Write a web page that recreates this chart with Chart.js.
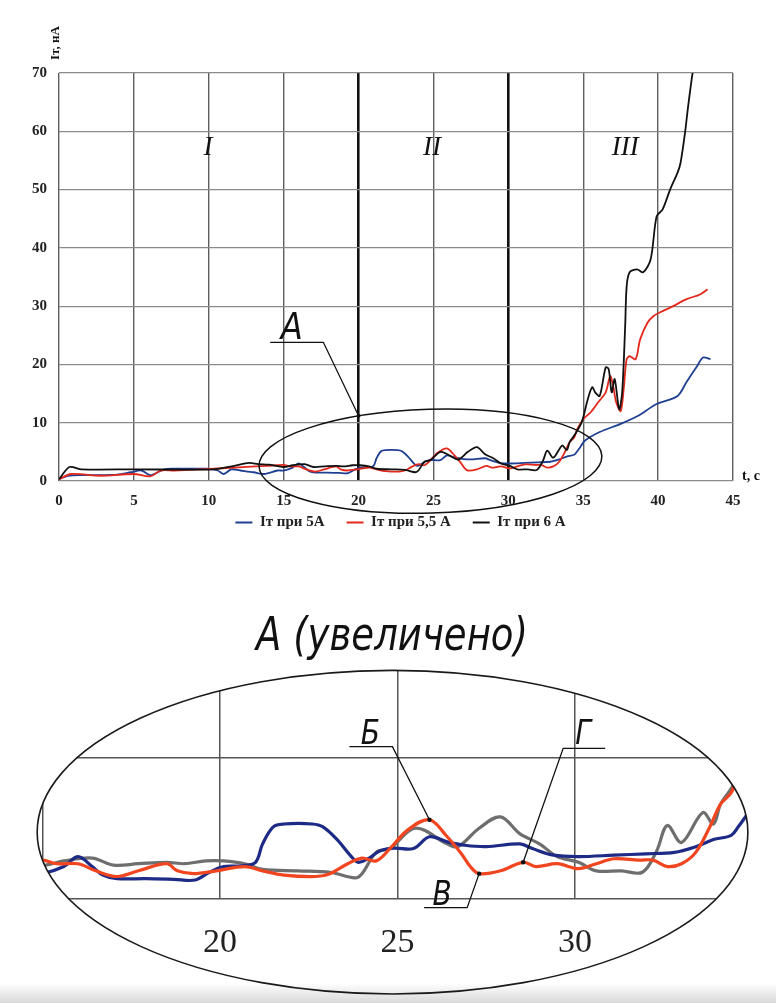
<!DOCTYPE html>
<html>
<head>
<meta charset="utf-8">
<script src="https://cdn.jsdelivr.net/npm/chart.js@4.4.1/dist/chart.umd.min.js"></script>
<style>
  html, body { margin: 0; padding: 0; background: #fff; }
  body { width: 776px; height: 1003px; position: relative; overflow: hidden; }
  #shade { position: absolute; left: 0; bottom: 0; width: 776px; height: 20px;
           background: linear-gradient(rgba(255,255,255,0), #d9d9d9); }
  #main { position: absolute; left: 0; top: 0; }
  #zoom { position: absolute; left: 0; top: 540px; }
</style>
</head>
<body>
<div id="shade"></div>
<canvas id="zoom" width="776" height="463"></canvas>
<canvas id="main" width="776" height="572"></canvas>
<script>
// Current through the sample, nA, versus time, s — three heating currents
const seriesNames = ['Iт при 5A', 'Iт при 5,5 A', 'Iт при 6 A'];

// 5 A
const t5 = [0, 0.6, 1.7, 3.9, 4.8, 5.5, 6.1, 7.0, 7.9, 9.9, 10.6, 11.0, 11.5, 12.1, 13.0,
  13.7, 14.6, 15.0, 15.6, 16.0, 16.4, 16.7, 17.1, 17.9, 18.7, 19.3, 19.7, 20.1, 20.6, 21.0,
  21.2, 21.5, 21.8, 22.6, 22.9, 23.3, 23.7, 23.9, 24.2, 24.5, 24.9, 25.45, 25.9, 26.4, 26.9,
  27.5, 28.45, 28.8, 29.4, 30.1, 31.1, 32.0, 32.8, 33.4, 33.9, 34.4, 34.6, 34.8, 35.1, 36.1,
  37.5, 38.6, 39.9, 41.3, 41.9, 42.6, 43.0, 43.5];
const i5 = [0.3, 0.9, 1.0, 1.1, 1.5, 1.8, 1.0, 2.0, 2.1, 2.1, 1.8, 1.2, 2.0, 1.8, 1.5,
  1.2, 1.8, 1.8, 2.3, 3.0, 2.3, 1.7, 1.45, 1.45, 1.4, 1.35, 1.9, 2.3, 2.35, 2.6,
  3.9, 5.1, 5.3, 5.3, 5.1, 4.2, 3.0, 2.6, 2.9, 3.4, 3.6, 3.57, 4.4, 4.04, 3.8,
  3.7, 3.9, 3.57, 3.1, 3.0, 3.1, 3.2, 3.3, 3.7, 4.2, 4.5, 5.1, 5.8, 6.9, 8.4,
  9.8, 11.1, 13.2, 14.6, 17.0, 19.7, 21.2, 20.9];

// 5,5 A
const t55 = [0, 0.8, 2.8, 5.0, 6.1, 6.8, 7.7, 9.5, 11.7, 13.9, 15.0, 15.4, 16.0, 16.5, 17.1,
  17.7, 18.5, 18.8, 19.25, 19.9, 20.7, 21.2, 21.8, 22.7, 23.1, 23.6, 24.0, 24.4, 24.8, 25.3,
  25.9, 26.4, 26.8, 27.05, 27.3, 27.9, 28.54, 28.9, 29.5, 30.1, 30.6, 31.1, 31.8, 32.2, 32.6,
  33.0, 33.4, 33.8, 34.1, 34.4, 34.6, 35.0, 35.5, 36.0, 36.5, 36.8, 37.0, 37.2, 37.5, 37.7,
  37.9, 38.1, 38.5, 38.8, 39.3, 39.7, 40.1, 41.0, 41.9, 42.8, 43.3];
const i55 = [0.3, 1.2, 0.9, 1.2, 0.8, 1.8, 1.8, 2.0, 2.3, 2.6, 2.75, 2.5, 2.5, 2.0, 1.6,
  2.0, 2.5, 2.0, 1.8, 2.0, 2.3, 2.0, 1.7, 1.6, 1.8, 2.5, 2.9, 2.7, 3.6, 4.9,
  5.6, 4.4, 3.2, 2.3, 1.8, 2.0, 2.6, 2.3, 2.5, 2.15, 2.5, 2.85, 2.75, 2.75, 2.3,
  2.5, 3.3, 5.1, 6.7, 7.5, 8.9, 10.6, 11.8, 13.5, 15.2, 18.0, 16.3, 13.5, 12.0, 15.7,
  20.9, 21.4, 20.9, 24.3, 27.2, 28.3, 28.9, 30.0, 31.2, 32.0, 32.9];

// 6 A
const t6 = [0, 0.7, 1.5, 5.0, 10.3, 11.7, 12.7, 13.3, 14.0, 15.0, 15.6, 16.4, 17.0, 17.7, 18.5,
  19.0, 19.6, 20.1, 20.7, 21.2, 22.2, 23.1, 23.8, 24.0, 24.4, 24.8, 25.5, 26.4, 26.7, 27.3,
  27.9, 28.45, 29.0, 29.5, 30.1, 30.6, 31.3, 31.9, 32.3, 32.6, 33.0, 33.6, 33.9, 34.1, 34.4,
  34.9, 35.3, 35.6, 35.8, 36.1, 36.5, 36.7, 36.9, 37.1, 37.4, 37.6, 37.8, 37.9, 38.1, 38.6,
  39.0, 39.5, 39.9, 40.3, 40.8, 41.3, 41.5, 41.8, 42.0, 42.3, 42.5];
const i6 = [0.3, 2.4, 2.0, 2.0, 2.0, 2.6, 3.1, 2.9, 2.8, 2.4, 2.7, 2.9, 2.4, 2.5, 2.6,
  2.5, 2.7, 2.7, 2.5, 2.1, 2.0, 1.9, 1.5, 1.8, 3.3, 3.6, 5.0, 3.9, 3.7, 5.0,
  5.8, 4.6, 3.9, 3.0, 2.6, 2.0, 2.0, 1.9, 3.4, 5.2, 4.0, 6.1, 5.3, 6.7, 7.8,
  10.1, 14.0, 16.1, 15.2, 14.6, 19.5, 19.2, 15.2, 17.5, 12.3, 15.2, 26.5, 33.4, 35.8, 36.3,
  35.8, 38.0, 45.4, 46.6, 50.0, 52.9, 54.6, 59.8, 64.2, 70.0, 73.0];

// stage labels, magnified-view ticks and callouts
const zoneNames = ['I', 'II', 'III'];
const zoomTicks = [20, 25, 30];
const zoomLevels = [0, 10];
const calloutNames = ['Б', 'В', 'Г'];
const calloutTimes = [25.9, 27.3, 28.54];

const pts = (t, v) => t.map((x, k) => ({ x, y: v[k] }));
const serif = '"Liberation Serif", "Times New Roman", serif';
const draft = '"DejaVu Sans", "Liberation Sans", sans-serif';

// thin italic drafting-style lettering, squeezed horizontally
function drafting(ctx, text, x, y, size, squeeze) {
  ctx.save();
  ctx.font = 'italic 200 ' + size + 'px ' + draft;
  ctx.textAlign = 'center';
  ctx.textBaseline = 'alphabetic';
  ctx.translate(x, y);
  ctx.scale(squeeze, 1);
  ctx.fillText(text, 0, 0);
  ctx.restore();
}

// ---------- main chart ----------
const stageMarks = {
  id: 'stageMarks',
  afterLayout(chart) {
    // tuck the legend row close under the time labels
    const lg = chart.legend;
    lg.top -= 28; lg.bottom -= 28;
    lg.left += 24; lg.right += 24;
  },
  afterDraw(chart) {
    const { ctx, chartArea: a, scales: { x, y } } = chart;
    ctx.save();
    ctx.fillStyle = '#111';
    ctx.strokeStyle = '#111';

    // stage numerals
    ctx.font = 'italic 27px ' + serif;
    ctx.textAlign = 'center';
    ctx.textBaseline = 'middle';
    const stageAt = [9.95, 24.9, 37.8];
    zoneNames.forEach((n, k) => ctx.fillText(n, x.getPixelForValue(stageAt[k]), y.getPixelForValue(57.2)));

    // axis captions
    ctx.font = 'bold 14px ' + serif;
    ctx.textAlign = 'left';
    ctx.textBaseline = 'alphabetic';
    ctx.fillText('t, c', a.right + 9, a.bottom - 1);
    ctx.save();
    ctx.translate(a.left - 0.5, a.top - 13);
    ctx.rotate(-Math.PI / 2);
    ctx.font = 'bold 13px ' + serif;
    ctx.fillText('Iт, нА', 0, 0);
    ctx.restore();

    // region A outline
    const cx = x.getPixelForValue(24.8), cy = y.getPixelForValue(3.4);
    ctx.beginPath();
    ctx.ellipse(cx, cy, x.getPixelForValue(24.8 + 11.45) - cx, cy - y.getPixelForValue(3.4 + 8.9), -0.03, 0, Math.PI * 2);
    ctx.lineWidth = 1.5;
    ctx.stroke();

    // leader to region A
    const tip = [x.getPixelForValue(20), y.getPixelForValue(11.2)];
    const knee = [x.getPixelForValue(17.65), y.getPixelForValue(23.8)];
    const end = [x.getPixelForValue(14.1), knee[1]];
    ctx.beginPath();
    ctx.moveTo(tip[0], tip[1]);
    ctx.lineTo(knee[0], knee[1]);
    ctx.lineTo(end[0], end[1]);
    ctx.lineWidth = 1.3;
    ctx.stroke();
    ctx.beginPath();
    ctx.arc(tip[0], tip[1], 2, 0, Math.PI * 2);
    ctx.fill();
    drafting(ctx, 'A', x.getPixelForValue(15.55), y.getPixelForValue(24.3), 38, 0.85);
    ctx.restore();
  }
};

new Chart(document.getElementById('main'), {
  type: 'line',
  data: {
    datasets: [
      { label: seriesNames[0], data: pts(t5, i5), borderColor: '#1f3f92', backgroundColor: '#1f3f92', order: 2 },
      { label: seriesNames[1], data: pts(t55, i55), borderColor: '#e3281c', backgroundColor: '#e3281c', order: 1 },
      { label: seriesNames[2], data: pts(t6, i6), borderColor: '#111111', backgroundColor: '#111111', order: 0 }
    ]
  },
  options: {
    responsive: false,
    animation: false,
    devicePixelRatio: 1,
    layout: { padding: { left: 20, right: 43, top: 73, bottom: 4 } },
    elements: {
      point: { radius: 0, borderWidth: 2 },
      line: { borderWidth: 1.8, tension: 0.3 }
    },
    scales: {
      x: {
        type: 'linear', min: 0, max: 45,
        ticks: { stepSize: 5, padding: 11, color: '#222', font: { family: serif, size: 15, weight: 'bold' } },
        grid: {
          drawTicks: false,
          color: c => (c.tick && (c.tick.value === 20 || c.tick.value === 30)) ? '#111' : '#5e5e5e',
          lineWidth: c => (c.tick && (c.tick.value === 20 || c.tick.value === 30)) ? 2.6 : 1.4
        },
        border: { display: false }
      },
      y: {
        min: 0, max: 70,
        ticks: { stepSize: 10, padding: 12, color: '#222', font: { family: serif, size: 15, weight: 'bold' } },
        grid: { drawTicks: false, color: '#8a8a8a', lineWidth: 1.2 },
        border: { display: false }
      }
    },
    plugins: {
      legend: {
        position: 'bottom',
        labels: {
          usePointStyle: true, pointStyle: 'line', pointStyleWidth: 17,
          padding: 22, color: '#222',
          font: { family: serif, size: 15, weight: 'bold' },
          sort: (a, b) => a.datasetIndex - b.datasetIndex
        }
      },
      tooltip: { enabled: false }
    }
  },
  plugins: [stageMarks]
});

// ---------- magnified view of region A ----------
function lensPath(chart) {
  const { ctx, scales: { x, y } } = chart;
  const cx = x.getPixelForValue(24.86), cy = y.getPixelForValue(4.72);
  ctx.beginPath();
  ctx.ellipse(cx, cy, x.getPixelForValue(24.86 + 10.01) - cx, cy - y.getPixelForValue(4.72 + 11.4), 0, 0, Math.PI * 2);
}

const lens = {
  id: 'lens',
  beforeDraw(chart) {
    chart.ctx.save();
    lensPath(chart);
    chart.ctx.clip();
  },
  afterDatasetsDraw(chart) {
    const ctx = chart.ctx;
    ctx.restore();
    ctx.save();
    lensPath(chart);
    ctx.lineWidth = 1.6;
    ctx.strokeStyle = '#1a1a1a';
    ctx.stroke();

    // callouts on the 5,5 A curve
    const geom = [
      { kx: -37, ky: -73, ex: -80, tx: -59, ty: -76 },
      { kx: -12, ky: 34, ex: -55, tx: -37, ty: 31 },
      { kx: 40, ky: -114, ex: 82, tx: 60, ty: -118 }
    ];
    const red = chart.getDatasetMeta(1).data;
    ctx.fillStyle = '#111';
    ctx.strokeStyle = '#111';
    calloutNames.forEach((n, k) => {
      const p = red[t55.indexOf(calloutTimes[k])];
      const g = geom[k];
      ctx.beginPath();
      ctx.moveTo(p.x, p.y);
      ctx.lineTo(p.x + g.kx, p.y + g.ky);
      ctx.lineTo(p.x + g.ex, p.y + g.ky);
      ctx.lineWidth = 1.3;
      ctx.stroke();
      ctx.beginPath();
      ctx.arc(p.x, p.y, 2.2, 0, Math.PI * 2);
      ctx.fill();
      drafting(ctx, n, p.x + g.tx, p.y + g.ty, 33, 0.85);
    });

    // heading
    ctx.save();
    ctx.font = 'italic 200 46px ' + draft;
    const w = ctx.measureText('A (увеличено)').width;
    ctx.restore();
    drafting(ctx, 'A (увеличено)', 392, 110, 46, 272 / w);
    ctx.restore();
  }
};

new Chart(document.getElementById('zoom'), {
  type: 'line',
  data: {
    datasets: [
      { data: pts(t5, i5), borderColor: '#1d2b86', order: 1 },
      { data: pts(t55, i55), borderColor: '#f1451f', order: 0 },
      { data: pts(t6, i6), borderColor: '#6e6e6e', order: 2 }
    ]
  },
  options: {
    responsive: false,
    animation: false,
    devicePixelRatio: 1,
    layout: { padding: { left: 42.5, right: 23.5, top: 125, bottom: 17 } },
    elements: {
      point: { radius: 0 },
      line: { borderWidth: 3.2, tension: 0.35 }
    },
    scales: {
      x: {
        type: 'linear', min: 15, max: 35,
        ticks: {
          stepSize: 5, padding: 23, color: '#222',
          font: { family: serif, size: 34 },
          callback: v => zoomTicks.includes(v) ? String(v) : ''
        },
        grid: { drawTicks: false, color: '#555', lineWidth: 1.5 },
        border: { display: false }
      },
      y: {
        min: 0, max: 16.5,
        afterBuildTicks: ax => { ax.ticks = zoomLevels.map(v => ({ value: v })); },
        ticks: { display: false },
        grid: { drawTicks: false, color: '#555', lineWidth: 1.5 },
        border: { display: false }
      }
    },
    plugins: { legend: { display: false }, tooltip: { enabled: false } }
  },
  plugins: [lens]
});
</script>
</body>
</html>
